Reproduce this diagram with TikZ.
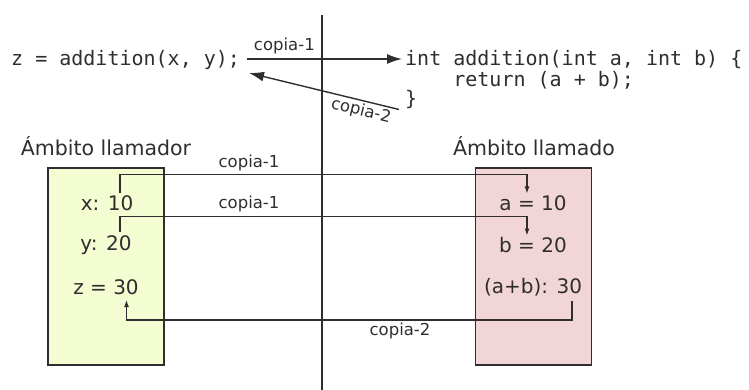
\documentclass[tikz,border=0pt]{standalone}
\usepackage{fontspec}
\setmainfont{DejaVu Sans}
\setmonofont{DejaVu Sans Mono}
\usetikzlibrary{arrows.meta}
\definecolor{callerfill}{HTML}{F4FCD2}
\definecolor{calleefill}{HTML}{F2D6D7}
\definecolor{ink}{HTML}{2E2E2E}
\begin{document}
\begin{tikzpicture}[x=1pt,y=-1pt,
  code/.style={font=\fontsize{20}{24}\selectfont\ttfamily, inner sep=0pt, anchor=west, text=ink},
  title/.style={font=\fontsize{20.5}{24}\selectfont, inner sep=0pt, text=ink},
  val/.style={font=\fontsize{20}{24}\selectfont, inner sep=0pt, text=ink},
  lbl/.style={font=\fontsize{16.5}{20}\selectfont, inner sep=0pt, text=ink},
  scopebox/.style={draw=ink, line width=1.2pt, inner sep=0pt, minimum width=116pt, minimum height=197pt},
  link/.style={draw=ink, line width=1.2pt, -{Latex[length=7pt,width=5pt]}},
  callarrow/.style={draw=ink, line width=1.4pt, -{Latex[length=15pt,width=10pt]}},
  divider/.style={draw=ink, line width=1.2pt}]
\useasboundingbox (0,0) rectangle (749,390);

% scope boxes
\node[scopebox, fill=callerfill] (caller) at (106,266.5) {};
\node[scopebox, fill=calleefill] (callee) at (533.5,266.5) {};

% dividing line between the two scopes
\coordinate (divtop) at (322,15);
\coordinate (divbot) at (322,390);
\draw[divider] (divtop) -- (divbot);

% source code
\node[code] (callsite) at (11,60) {z = addition(x, y);};
\node[code] (fline1) at (405,60) {int addition(int a, int b) \{};
\node[code] (fline2) at (405,80) {\phantom{xxxx}return (a + b);};
\node[code] (fline3) at (405,100) {\}};

% call and return
\draw[callarrow] ([xshift=7pt,yshift=1pt]callsite.east) -- ([xshift=-3pt,yshift=1pt]fline1.west)
  node[lbl, pos=0.24, above=4pt] (callcopy) {copia-1};
\coordinate (retfrom) at (399,109.5);
\coordinate (retto) at (249,73);
\draw[callarrow] (retfrom) -- (retto);
\node[lbl, rotate=-13.7] (retcopy) at (361,111) {copia-2};

% scope titles
\node[title] (callertitle) at (106,146) {Ámbito llamador};
\node[title] (calleetitle) at (534,146) {Ámbito llamado};

% values
\node[val] (xval) at (107,203) {x: 10};
\node[val] (yval) at (106,245) {y: 20};
\node[val] (zval) at (106,287) {z = 30};
\node[val] (aval) at (533,203) {a = 10};
\node[val] (bval) at (533,245) {b = 20};
\node[val] (sval) at (533,287) {(a+b): 30};

% copies between the scopes
\coordinate (xsrc) at (120,193);
\coordinate (adst) at (527,193.5);
\draw[link] (xsrc) -- (120,174.5) -- (527,174.5) -- (adst);
\node[lbl] (copyx) at (249,163) {copia-1};

\coordinate (ysrc) at (120,232);
\coordinate (bdst) at (527,235.5);
\draw[link] (ysrc) -- (120,216.5) -- (527,216.5) -- (bdst);
\node[lbl] (copyy) at (249,204) {copia-1};

\coordinate (ssrc) at (572,301);
\coordinate (zdst) at (126.5,300);
\draw[link] (ssrc) -- (572,320) -- (126.5,320) -- (zdst);
\node[lbl] (copyz) at (400,331) {copia-2};
\end{tikzpicture}
\end{document}
